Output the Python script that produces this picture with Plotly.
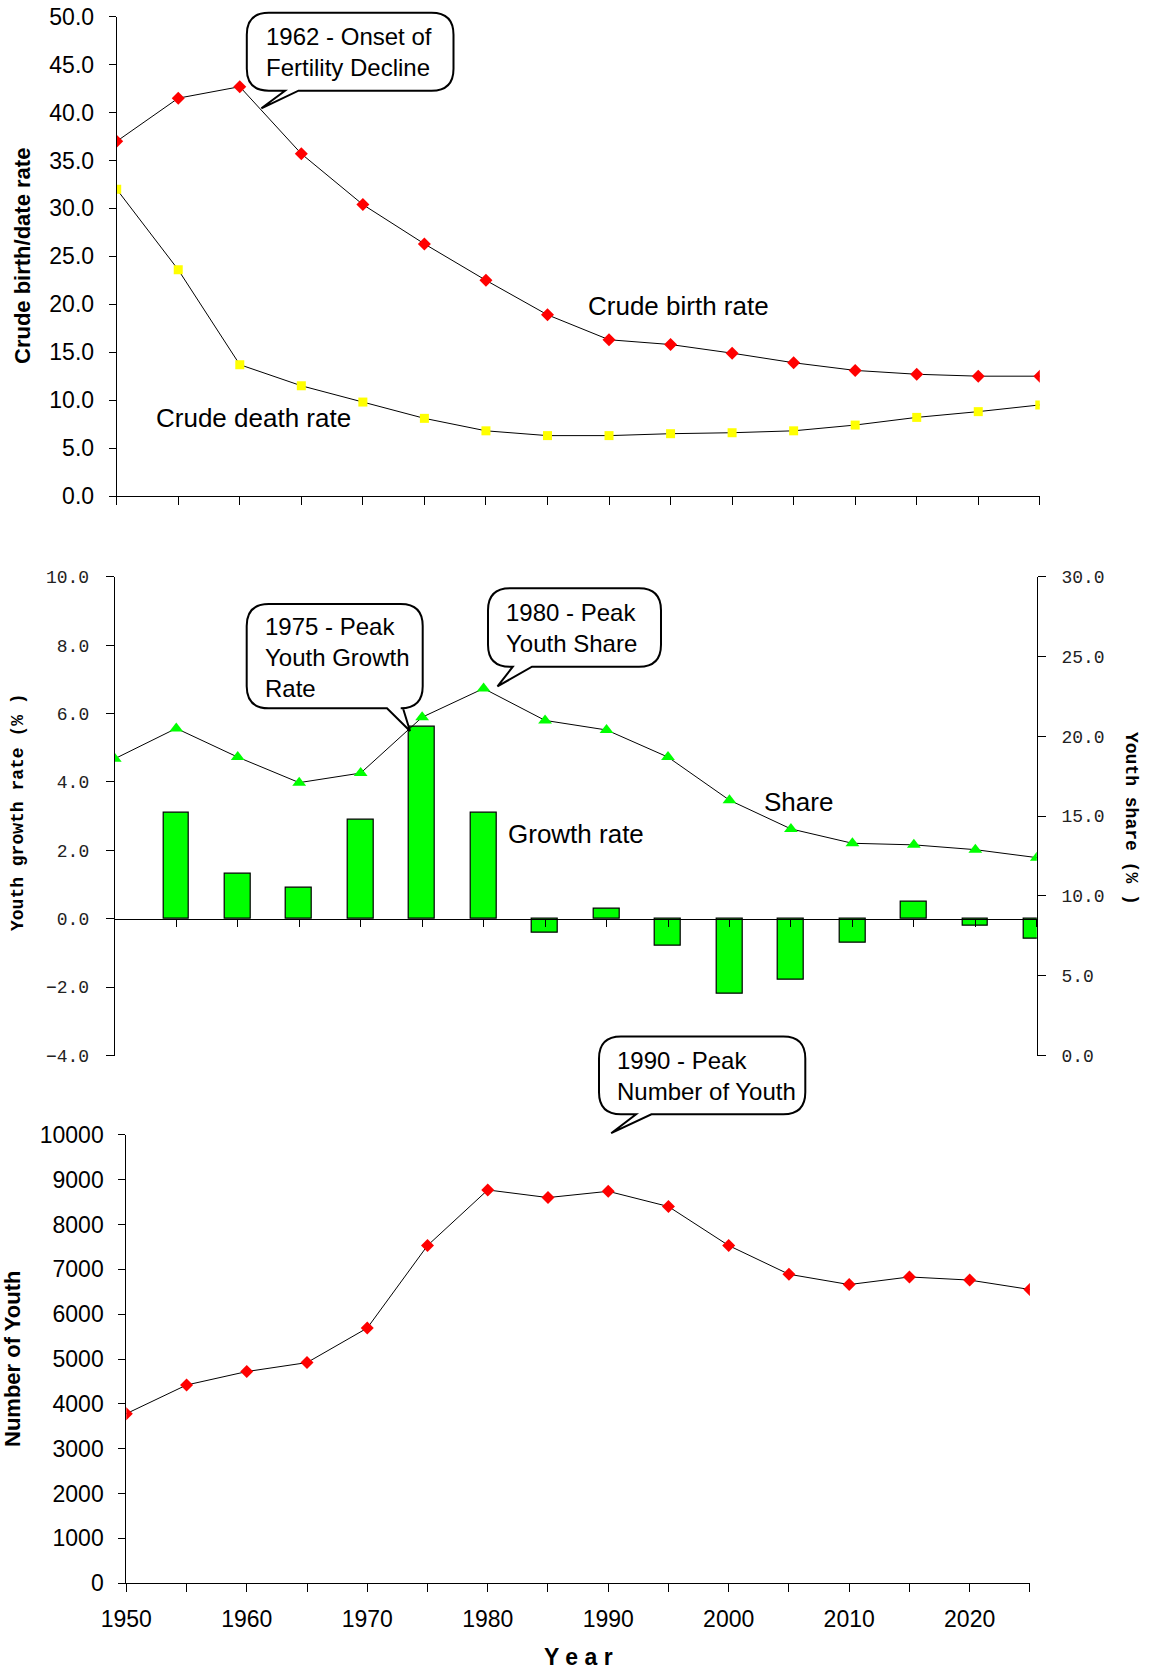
import plotly.graph_objects as go

# ---------------- data ----------------
years = [1950, 1955, 1960, 1965, 1970, 1975, 1980, 1985, 1990, 1995, 2000, 2005, 2010, 2015, 2020, 2025]
birth_rate = [37.0, 41.5, 42.7, 35.7, 30.4, 26.3, 22.5, 18.9, 16.3, 15.8, 14.9, 13.9, 13.1, 12.7, 12.5, 12.5]
death_rate = [32.0, 23.6, 13.7, 11.5, 9.8, 8.1, 6.8, 6.3, 6.3, 6.5, 6.6, 6.8, 7.4, 8.2, 8.8, 9.5]
youth_growth = [None, 3.1, 1.3, 0.9, 2.9, 5.6, 3.1, -0.4, 0.3, -0.8, -2.2, -1.8, -0.7, 0.5, -0.2, -0.6]
youth_share = [18.6, 20.5, 18.7, 17.1, 17.7, 21.2, 23.0, 21.0, 20.4, 18.7, 16.0, 14.2, 13.3, 13.2, 12.9, 12.4]
youth_number = [3780, 4420, 4720, 4920, 5690, 7530, 8770, 8600, 8740, 8400, 7530, 6890, 6660, 6830, 6760, 6550]

W, H = 1150, 1670


def px(x):
    return x / W


def py(y):
    return 1 - y / H


SANS = "Liberation Sans, Arial, sans-serif"
MONO = "Liberation Mono, Courier New, monospace"

fig = go.Figure()

# ---- panel 1 ----
fig.add_trace(go.Scatter(x=years, y=birth_rate, mode="lines+markers", xaxis="x", yaxis="y",
                         line=dict(color="black", width=1),
                         marker=dict(symbol="diamond", color="#FF0000", size=10), showlegend=False))
fig.add_trace(go.Scatter(x=years, y=death_rate, mode="lines+markers", xaxis="x", yaxis="y",
                         line=dict(color="black", width=1),
                         marker=dict(symbol="square", color="#FFFF00", size=9), showlegend=False))

# ---- panel 2 ----
fig.add_trace(go.Bar(x=years, y=youth_growth, xaxis="x2", yaxis="y2", width=2.1,
                     marker=dict(color="#00FF00", line=dict(color="black", width=1.2)), showlegend=False))
fig.add_trace(go.Scatter(x=years, y=youth_share, mode="lines+markers", xaxis="x2", yaxis="y3",
                         line=dict(color="black", width=1),
                         marker=dict(symbol="triangle-up", color="#00FF00", size=12), showlegend=False))

# ---- panel 3 ----
fig.add_trace(go.Scatter(x=years, y=youth_number, mode="lines+markers", xaxis="x3", yaxis="y5",
                         line=dict(color="black", width=1),
                         marker=dict(symbol="diamond", color="#FF0000", size=10), showlegend=False))

p1x = [px(116.7), px(1039.8)]
p1y = [py(496), py(16.7)]
p2x = [px(114.8), px(1036.8)]
p2y = [py(1055.5), py(576.8)]
p3x = [px(126.3), px(1029.9)]
p3y = [py(1583.2), py(1134.8)]

g_lo, g_hi = -4, 10
zero_pos = p2y[0] + (0 - g_lo) / (g_hi - g_lo) * (p2y[1] - p2y[0])

axis_common = dict(showgrid=False, zeroline=False, showline=True, linecolor="black", linewidth=1,
                   ticks="outside", tickcolor="black", tickwidth=1, automargin=False)

fig.update_layout(
    width=W, height=H, margin=dict(l=0, r=0, t=0, b=0),
    paper_bgcolor="white", plot_bgcolor="white", showlegend=False, bargap=0,
    xaxis=dict(domain=p1x, range=[1950, 2025], dtick=5, tick0=1950, ticklen=8,
               showticklabels=False, anchor="y", **axis_common),
    yaxis=dict(domain=p1y, range=[0, 50], dtick=5, tickformat=".1f", ticklen=7,
               tickfont=dict(family=SANS, size=23, color="black"), ticklabelstandoff=10,
               anchor="x", **axis_common),
    xaxis2=dict(domain=p2x, range=[1950, 2025], dtick=5, tick0=1950, ticklen=7,
                showticklabels=False, anchor="free", position=zero_pos, **axis_common),
    yaxis2=dict(domain=p2y, range=[g_lo, g_hi], dtick=2, tickformat=".1f", ticklen=8,
                tickfont=dict(family=MONO, size=18, color="#222"), ticklabelstandoff=13,
                anchor="x2", **axis_common),
    yaxis3=dict(range=[0, 30], dtick=5, tickformat=".1f", ticklen=8, overlaying="y2", side="right",
                tickfont=dict(family=MONO, size=18, color="#222"), ticklabelstandoff=12,
                anchor="x2", **axis_common),
    yaxis4=dict(range=[0, 30], dtick=5, ticklen=7, overlaying="y2", side="right", ticks="inside",
                showticklabels=False, showgrid=False, zeroline=False, showline=False,
                tickcolor="black", anchor="x2", automargin=False),
    xaxis3=dict(domain=p3x, range=[1950, 2025], dtick=10, tick0=1950, ticklen=8,
                tickfont=dict(family=SANS, size=23, color="black"), ticklabelstandoff=7,
                minor=dict(dtick=5, tick0=1950, ticks="outside", ticklen=8, tickcolor="black"),
                anchor="y5", **axis_common),
    yaxis5=dict(domain=p3y, range=[0, 10000], dtick=1000, tickformat="d", ticklen=7,
                tickfont=dict(family=SANS, size=23, color="black"), ticklabelstandoff=10,
                anchor="x3", **axis_common),
)

annotations = []


def label(text, x, y, size=26, family=SANS, angle=0, bold=False, xanchor="center"):
    t = f"<b>{text}</b>" if bold else text
    annotations.append(dict(text=t, x=px(x), y=py(y), xref="paper", yref="paper", showarrow=False,
                            xanchor=xanchor, yanchor="middle", textangle=angle,
                            font=dict(family=family, size=size, color="black")))


# axis titles
label("Crude birth/date rate", 22, 256, size=22, angle=-90, bold=True)
label("Number of Youth", 12, 1359, size=22, angle=-90, bold=True)
label("Y e a r", 578, 1657, size=23, bold=True)
label("Youth growth rate (% )", 18, 812, size=18, family=MONO, angle=-90, bold=True)
label("Youth share (% )", 1131, 818, size=18, family=MONO, angle=90, bold=True)

# series labels
label("Crude birth rate", 678.5, 306)
label("Crude death rate", 253.5, 418)
label("Growth rate", 575.7, 834)
label("Share", 798, 801.7)

# callout bubbles
shapes = []


def bubble(x0, y0, x1, y1, bx0, bx1, tx, ty, text, tleft, tmid, r=22):
    def P(x, y):
        return f"{px(x):.5f},{py(y):.5f}"
    path = (f"M {P(x0 + r, y0)} L {P(x1 - r, y0)} Q {P(x1, y0)} {P(x1, y0 + r)} "
            f"L {P(x1, y1 - r)} Q {P(x1, y1)} {P(x1 - r, y1)} L {P(bx1, y1)} L {P(tx, ty)} "
            f"L {P(bx0, y1)} L {P(x0 + r, y1)} Q {P(x0, y1)} {P(x0, y1 - r)} "
            f"L {P(x0, y0 + r)} Q {P(x0, y0)} {P(x0 + r, y0)} Z")
    shapes.append(dict(type="path", path=path, xref="paper", yref="paper",
                       line=dict(color="black", width=2), fillcolor="white", layer="above"))
    annotations.append(dict(text=text, x=px(tleft), y=py(tmid), xref="paper", yref="paper",
                            showarrow=False, xanchor="left", yanchor="middle", align="left",
                            font=dict(family=SANS, size=24, color="black")))


bubble(246.8, 12.7, 453.5, 90.7, 285, 298.5, 261.4, 108.3,
       "1962 - Onset of<br>Fertility Decline", 264, 51.7)
bubble(246.7, 604, 422.7, 708.3, 387, 403, 410, 731,
       "1975 - Peak<br>Youth Growth<br>Rate", 263.3, 657.5)
bubble(488, 588.2, 661, 666.7, 512.8, 532, 497.5, 686.4,
       "1980 - Peak<br>Youth Share", 504.4, 627.8)
bubble(599, 1036.6, 805.3, 1114.3, 636.1, 651.4, 611.2, 1133.2,
       "1990 - Peak<br>Number of Youth", 615, 1076.2)

fig.update_layout(annotations=annotations, shapes=shapes)

fig.write_html("out.html", config={"displayModeBar": False},
               post_script="document.body.style.margin='0px';")
